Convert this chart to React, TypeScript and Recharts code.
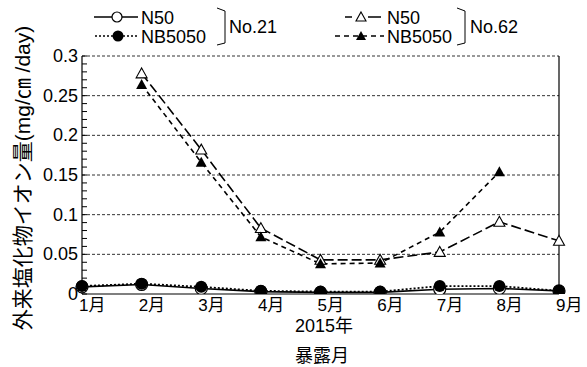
import React from 'react';
import { LineChart, Line, XAxis, YAxis, ReferenceLine } from 'recharts';

const months = ['1月', '2月', '3月', '4月', '5月', '6月', '7月', '8月', '9月'];
// No.21
const n50No21 = [0.009, 0.012, 0.007, 0.003, 0.002, 0.002, 0.006, 0.007, 0.004];
const nb5050No21 = [0.010, 0.013, 0.009, 0.004, 0.003, 0.003, 0.010, 0.010, 0.004];
// No.62
const n50No62 = [null, 0.278, 0.182, 0.083, 0.043, 0.043, 0.053, 0.091, 0.067];
const nb5050No62 = [null, 0.264, 0.166, 0.072, 0.038, 0.039, 0.078, 0.154, null];

const majorTicks = [0, 0.05, 0.1, 0.15, 0.2, 0.25, 0.3];
const minorTicks = Array.from({ length: 31 }, (_, i) => i / 100);

const data = months.map((m, i) => ({
    month: m,
    n50_21: n50No21[i],
    nb_21: nb5050No21[i],
    n50_62: n50No62[i],
    nb_62: nb5050No62[i],
}));

const FONT = '"Liberation Sans", Arial, "Noto Sans CJK JP", sans-serif';
const isMajor = (v: number) => Math.round(v * 100) % 5 === 0;
const fmt = (v: number) => String(Math.round(v * 100) / 100);

const LeftTick = ({ x, y, payload }: any) => (
    <g>
        <line x1={x} x2={x + 5} y1={y} y2={y} stroke="#000" />
        {isMajor(payload.value) && (
            <text x={x - 4} y={y} textAnchor="end" dominantBaseline="central" fontSize={18} fill="#000" fontFamily={FONT}>
                {fmt(payload.value)}
            </text>
        )}
    </g>
);

const RightTick = ({ x, y }: any) => <line x1={x} x2={x - 5} y1={y} y2={y} stroke="#000" />;

const MonthTick = ({ x, y, payload }: any) => (
    <text x={x - 3} y={y + 11} textAnchor="start" dominantBaseline="central" fontSize={17} fill="#000" fontFamily={FONT}>
        {payload.value}
    </text>
);

const tri = (cx: number, cy: number, s = 5.5) =>
    `M${cx},${cy - s} L${cx + s},${cy + s * 0.8} L${cx - s},${cy + s * 0.8} Z`;

const OpenCircle = ({ cx, cy, index }: any) =>
    cx == null || cy == null ? <g key={index} /> : <circle key={index} cx={cx} cy={cy} r={6} fill="#fff" stroke="#000" strokeWidth={1.2} />;
const FilledCircle = ({ cx, cy, index }: any) =>
    cx == null || cy == null ? <g key={index} /> : <circle key={index} cx={cx} cy={cy} r={6} fill="#000" />;
const OpenTri = ({ cx, cy, index }: any) =>
    cx == null || cy == null ? <g key={index} /> : <path key={index} d={tri(cx, cy)} fill="#fff" stroke="#000" strokeWidth={1.1} />;
const FilledTri = ({ cx, cy, index }: any) =>
    cx == null || cy == null ? <g key={index} /> : <path key={index} d={tri(cx, cy)} fill="#000" />;

export default function App() {
    return (
        <div style={{ position: 'absolute', left: 0, top: 0, width: 587, height: 367, background: '#fff' }}>
            <LineChart width={587} height={367} data={data} margin={{ top: 56, right: 0, bottom: 43, left: 0 }}>
                <XAxis
                    dataKey="month"
                    tick={<MonthTick />}
                    tickLine={false}
                    tickSize={0}
                    tickMargin={0}
                    height={30}
                    interval={0}
                    axisLine={{ stroke: '#000', strokeWidth: 1.2 }}
                />
                <YAxis
                    domain={[0, 0.3]}
                    ticks={minorTicks}
                    interval={0}
                    width={82}
                    tick={<LeftTick />}
                    tickLine={false}
                    tickSize={0}
                    tickMargin={0}
                    axisLine={{ stroke: '#000', strokeWidth: 1.2 }}
                    allowDataOverflow
                />
                <YAxis
                    yAxisId="r"
                    orientation="right"
                    domain={[0, 0.3]}
                    ticks={minorTicks}
                    interval={0}
                    width={28}
                    tick={<RightTick />}
                    tickLine={false}
                    tickSize={0}
                    tickMargin={0}
                    axisLine={{ stroke: '#000', strokeWidth: 1.2 }}
                />
                {majorTicks.filter(v => v > 0).map(v => (
                    <ReferenceLine key={v} y={v} stroke="#333" strokeDasharray="3 2" strokeWidth={1} />
                ))}
                <Line dataKey="n50_62" stroke="#000" strokeWidth={1.6} strokeDasharray="10 4" dot={<OpenTri />} isAnimationActive={false} connectNulls={false} />
                <Line dataKey="nb_62" stroke="#000" strokeWidth={1.6} strokeDasharray="5 4" dot={<FilledTri />} isAnimationActive={false} connectNulls={false} />
                <Line dataKey="n50_21" stroke="#000" strokeWidth={1.6} dot={<OpenCircle />} isAnimationActive={false} />
                <Line dataKey="nb_21" stroke="#000" strokeWidth={1.8} strokeDasharray="2 2" dot={<FilledCircle />} isAnimationActive={false} />
            </LineChart>
            <svg width={587} height={367} style={{ position: 'absolute', left: 0, top: 0, pointerEvents: 'none' }} fontFamily={FONT}>
                {/* legend No.21 */}
                <line x1={94} x2={138} y1={17} y2={17} stroke="#000" strokeWidth={1.5} />
                <circle cx={117} cy={17} r={5} fill="#fff" stroke="#000" strokeWidth={1.2} />
                <text x={141} y={18} fontSize={18} dominantBaseline="central">N50</text>
                <line x1={95} x2={138} y1={36} y2={36} stroke="#000" strokeWidth={1.6} strokeDasharray="2 2" />
                <circle cx={118} cy={36} r={5.5} fill="#000" />
                <text x={141} y={37} fontSize={18} dominantBaseline="central">NB5050</text>
                <path d="M217,8 L225,11 L225,43 L217,45" fill="none" stroke="#000" strokeWidth={1} />
                <text x={229} y={27} fontSize={18} dominantBaseline="central">No.21</text>
                {/* legend No.62 */}
                <line x1={345} x2={352} y1={17} y2={17} stroke="#000" strokeWidth={1.5} />
                <line x1={368} x2={381} y1={17} y2={17} stroke="#000" strokeWidth={1.5} />
                <path d={tri(361, 17, 5)} fill="#fff" stroke="#000" strokeWidth={1.1} />
                <text x={387} y={18} fontSize={18} dominantBaseline="central">N50</text>
                <line x1={335} x2={384} y1={36} y2={36} stroke="#000" strokeWidth={1.6} strokeDasharray="5 4" />
                <path d={tri(361, 36, 5)} fill="#000" />
                <text x={387} y={37} fontSize={18} dominantBaseline="central">NB5050</text>
                <path d="M457,8 L465,11 L465,43 L457,45" fill="none" stroke="#000" strokeWidth={1} />
                <text x={470} y={27} fontSize={18} dominantBaseline="central">No.62</text>
                {/* axis titles */}
                <text x={324} y={326} fontSize={18} textAnchor="middle" dominantBaseline="central">2015年</text>
                <text x={322} y={356} fontSize={18} textAnchor="middle" dominantBaseline="central">暴露月</text>
                <text
                    x={22}
                    y={178}
                    fontSize={21}
                    textAnchor="middle"
                    dominantBaseline="central"
                    transform="rotate(-90 22 178)"
                >
                    外来塩化物イオン量(mg/㎝ /day)
                </text>
            </svg>
        </div>
    );
}
